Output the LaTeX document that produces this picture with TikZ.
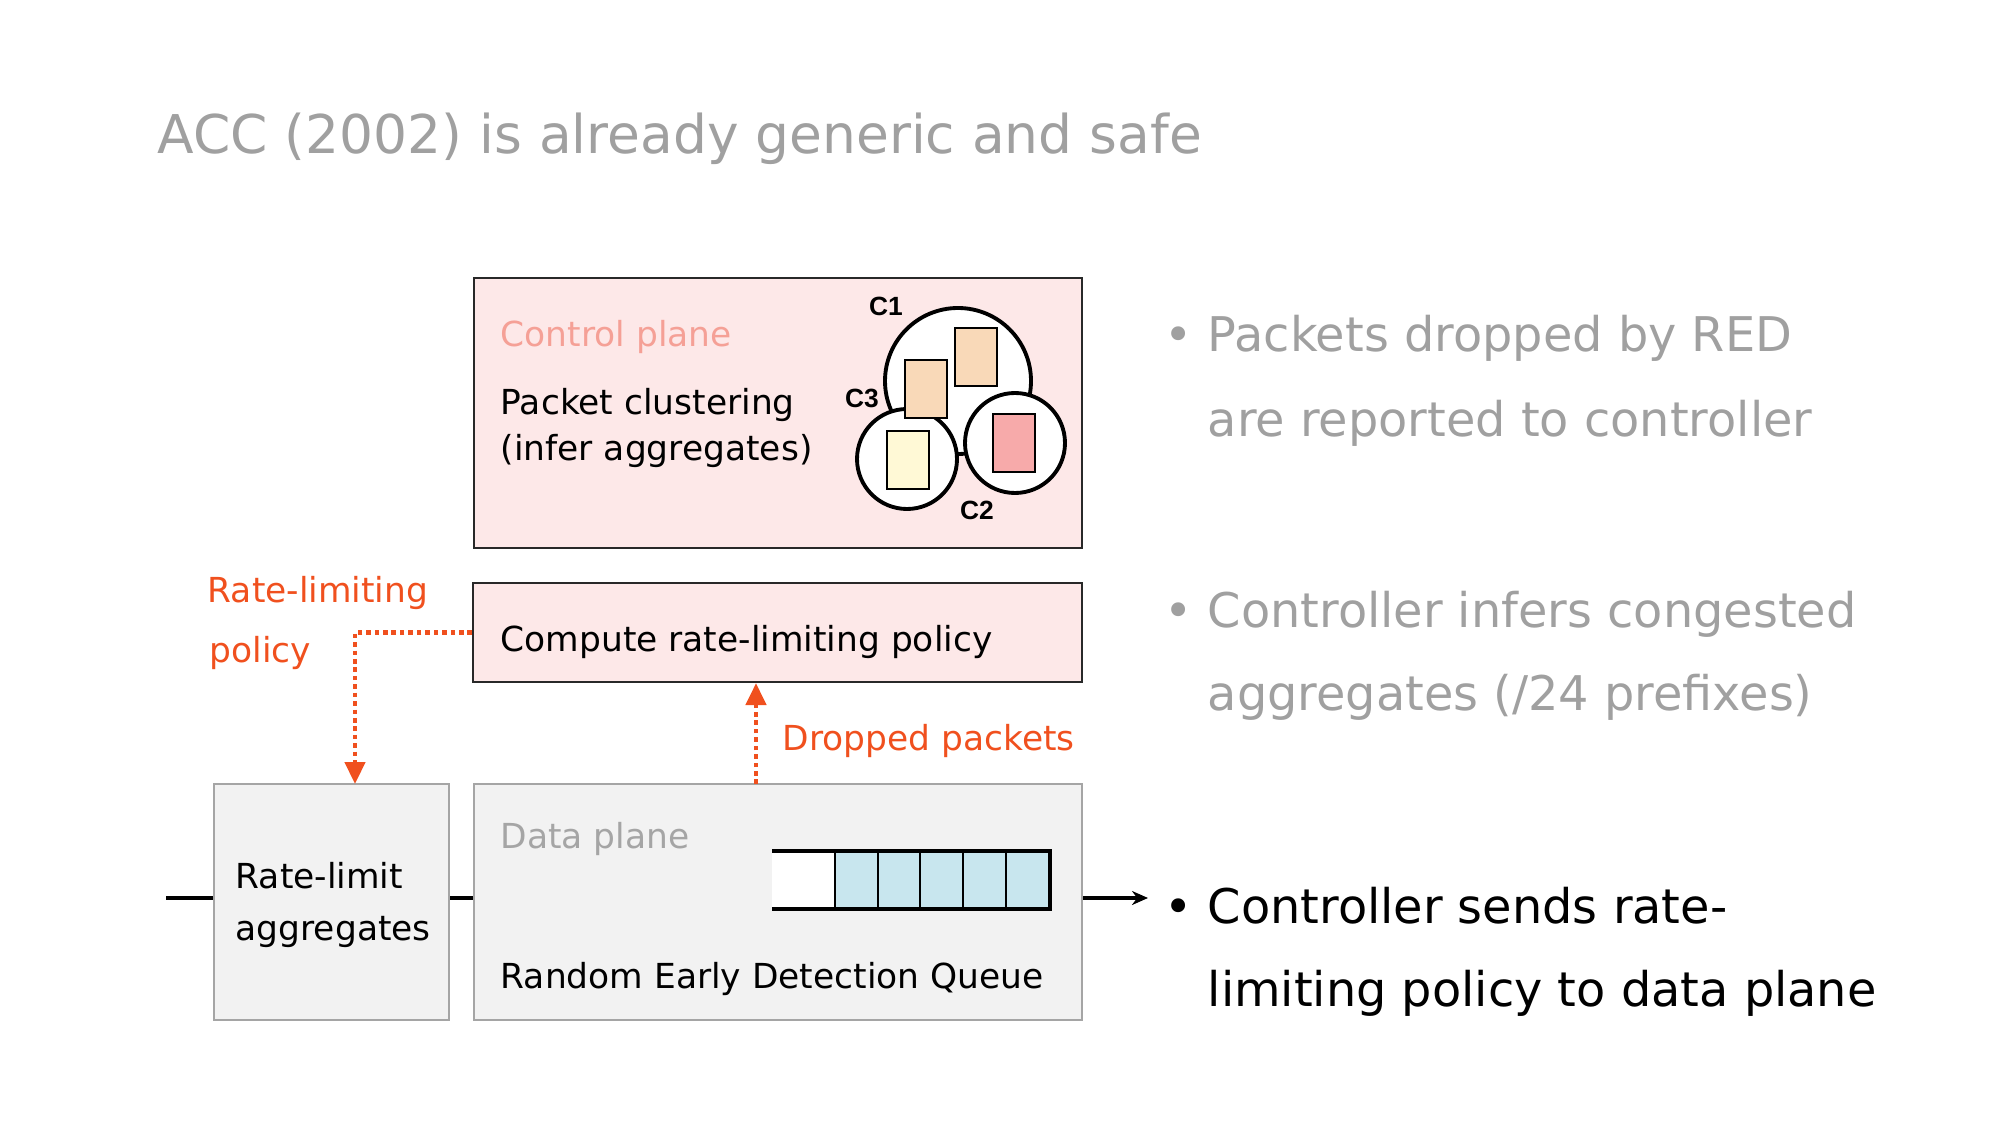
\documentclass[tikz,border=0pt]{standalone}
\usepackage{fontspec}
\setmainfont{DejaVu Sans}
\newfontfamily\tagfont{Liberation Sans}
\usetikzlibrary{arrows.meta,positioning,calc}
\definecolor{ink}{RGB}{40,40,40}
\definecolor{dim}{RGB}{160,160,160}
\definecolor{hot}{RGB}{240,80,30}
\definecolor{salmon}{RGB}{245,160,150}
\definecolor{ctlfill}{RGB}{253,232,232}
\definecolor{datfill}{RGB}{242,242,242}
\definecolor{datline}{RGB}{165,165,165}
\definecolor{qblue}{RGB}{200,230,238}
\definecolor{peach}{RGB}{249,217,184}
\definecolor{cream}{RGB}{255,249,214}
\definecolor{rose}{RGB}{247,170,170}
\tikzset{
  ctl/.style={draw=ink,fill=ctlfill,line width=0.6pt,inner sep=0pt},
  dat/.style={draw=datline,fill=datfill,line width=0.6pt,inner sep=0pt},
  txt/.style={anchor=base west,inner sep=0pt,font=\fontsize{9.8}{12}\selectfont},
  bul/.style={anchor=base west,inner sep=0pt,font=\fontsize{13.6}{16}\selectfont,text=dim},
  clu/.style={circle,draw=black,line width=1.1pt,fill=white,inner sep=0pt},
  pkt/.style={draw=black,line width=0.6pt},
  tag/.style={inner sep=0pt,font=\tagfont\bfseries\fontsize{7.5}{9}\selectfont},
  sig/.style={-{Triangle[length=2.2mm,width=2mm]},hot,line width=1.3pt,
    dash pattern=on 1.3pt off 1.1pt},
  wire/.style={line width=0.9pt},
}

\begin{document}
\begin{tikzpicture}
\useasboundingbox (0,0) rectangle (20,11.25);
% title
\node[anchor=base west,inner sep=0pt,text=dim,font=\fontsize{15.2}{18}\selectfont]
  (title) at (1.57,9.71) {ACC (2002) is already generic and safe};

% boxes
\node[ctl,minimum width=6.08cm,minimum height=2.70cm] (ctl) at (7.78,7.12) {};
\node[ctl,minimum width=6.09cm,minimum height=0.99cm] (cmp) at (7.775,4.925) {};
\node[dat,minimum width=2.35cm,minimum height=2.36cm] (rl) at (3.315,2.23) {};
\node[dat,minimum width=6.08cm,minimum height=2.36cm] (dp) at (7.78,2.23) {};

\node[txt,text=salmon] (ctllab) at (5.00,7.78) {Control plane};
\node[txt] (clus1) at (5.00,7.10) {Packet clustering};
\node[txt] (clus2) at (5.00,6.65) {(infer aggregates)};
\node[txt] (cmplab) at (5.00,4.74) {Compute rate-limiting policy};
\node[txt,text=datline] (dplab) at (5.00,2.77) {Data plane};
\node[txt] (redlab) at (5.00,1.37) {Random Early Detection Queue};
\node[txt] (rl1) at (2.35,2.37) {Rate-limit};
\node[txt] (rl2) at (2.35,1.85) {aggregates};

% clusters
\node[clu,minimum size=1.46cm] (c1) at (9.58,7.44) {};
\node[clu,minimum size=1.00cm] (c3) at (9.07,6.66) {};
\node[clu,minimum size=1.00cm] (c2) at (10.15,6.82) {};
\foreach \x/\y/\col in {9.55/7.39/peach,9.05/7.07/peach,8.87/6.36/cream,9.93/6.53/rose}
  \draw[pkt,fill=\col] (\x,\y) rectangle ++(0.42,0.58);
\node[tag] (t1) at (8.86,8.19) {C1};
\node[tag] (t3) at (8.62,7.27) {C3};
\node[tag] (t2) at (9.77,6.15) {C2};

% queue
\fill[white] (7.72,2.16) rectangle (8.35,2.74);
\foreach \x in {8.35,8.78,9.20,9.63,10.06}
  \draw[fill=qblue,line width=0.5pt] (\x,2.16) rectangle ++(0.43,0.58);
\draw[line width=1.3pt] (7.72,2.74) -- (10.50,2.74) -- (10.50,2.16) -- (7.72,2.16);

% flow
\coordinate (src) at (1.66,2.27);
\coordinate (snk) at (11.48,2.27);
\draw[wire] (src) -- (src -| rl.west);
\draw[wire] (rl.east |- src) -- (dp.west |- src);
\draw[wire,-{Stealth[length=1.6mm,width=1.4mm]}] (dp.east |- src) -- (snk);

% signals
\coordinate (rltop) at (3.55,3.41);
\draw[sig] (cmp.west) -| (rltop);
\coordinate (dptop) at (7.56,3.41);
\draw[sig] (dptop) -- (dptop |- cmp.south);
\node[txt,text=hot] (pol1) at (2.07,5.23) {Rate-limiting};
\node[txt,text=hot] (pol2) at (2.09,4.63) {policy};
\node[txt,text=hot] (drop) at (7.82,3.75) {Dropped packets};

% bullets
\node[bul] (d1) at (11.64,7.73) {•};
\node[bul] (b1a) at (12.07,7.73) {Packets dropped by RED};
\node[bul] (b1b) at (12.07,6.88) {are reported to controller};
\node[bul] (d2) at (11.64,4.97) {•};
\node[bul] (b2a) at (12.07,4.97) {Controller infers congested};
\node[bul] (b2b) at (12.07,4.15) {aggregates (/24 prefixes)};
\node[bul,text=black] (d3) at (11.64,2.02) {•};
\node[bul,text=black] (b3a) at (12.07,2.02) {Controller sends rate-};
\node[bul,text=black] (b3b) at (12.07,1.19) {limiting policy to data plane};
\end{tikzpicture}
\end{document}
